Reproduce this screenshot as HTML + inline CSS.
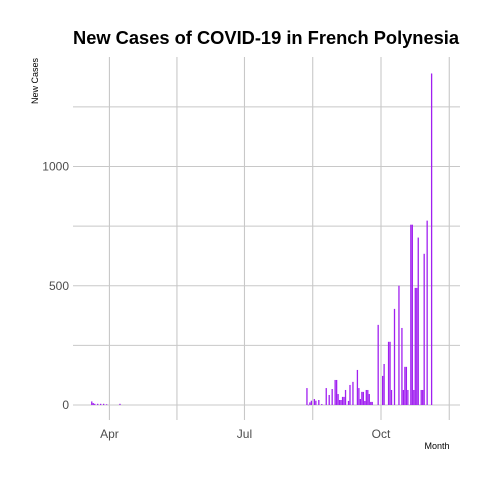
<!DOCTYPE html>
<html><head><meta charset="utf-8"><style>
body{margin:0;background:#fff;width:480px;height:480px;overflow:hidden}
svg text{font-family:"Liberation Sans",sans-serif}
</style></head><body>
<svg id="chart" width="480" height="480">
<text x="73" y="44" font-size="18.3" font-weight="bold" fill="#000">New Cases of COVID-19 in French Polynesia</text>
<text transform="translate(38,81) rotate(-90)" text-anchor="middle" font-size="9" fill="#000">New  Cases</text>
<text x="437" y="449" text-anchor="middle" font-size="9" fill="#000">Month</text>
<g id="grid"></g><g id="bars"></g><g id="labels"></g>
</svg>
<script>
// day offsets relative to Oct 1, and daily new cases
const dayOffsets=[-195,-194,-193,-191,-189,-187,-185,-176,-50,-49,-48,-47,-45,-44,-42,-40,-37,-35,-33,-31,-30,-29,-28,-27,-26,-25,-24,-22,-21,-19,-16,-15,-14,-13,-12,-11,-10,-9,-8,-7,-6,-2,1,2,5,6,7,9,12,14,15,16,17,18,20,21,22,23,24,25,27,28,29,31,34];
const cases=[15,8,5,5,5,5,3,5,71,1,11,18,25,18,21,4,71,42,67,105,105,46,21,21,34,34,63,17,84,97,147,71,25,55,55,17,63,63,46,13,13,336,122,172,265,265,63,403,500,323,63,160,160,63,756,756,63,491,491,702,63,63,634,773,1390];
const yTicks=[0,500,1000];
const yMinor=[250,750,1250];
const xTickLabels=["Apr","Jul","Oct"];
const xTickDays=[-183,-92,0];
const xMinorDays=[-137.5,-46,46];
const NS="http://www.w3.org/2000/svg";
const L=73,R=460,T=57,B=420;
const x=d=>381+d*1.484;
const y=v=>405-v*0.2385;
const grid=document.getElementById('grid'),bars=document.getElementById('bars'),labels=document.getElementById('labels');
function line(x1,y1,x2,y2,name){const l=document.createElementNS(NS,'line');l.setAttribute('x1',x1);l.setAttribute('y1',y1);l.setAttribute('x2',x2);l.setAttribute('y2',y2);l.setAttribute('stroke','#c8c8c8');l.setAttribute('stroke-width','1.1');


grid.appendChild(l);}
yMinor.forEach(v=>line(L,y(v),R,y(v),'y-minor-gridline'));
yTicks.forEach(v=>line(L,y(v),R,y(v),'y-gridline'));
xMinorDays.forEach(d=>line(x(d),T,x(d),B,'x-minor-gridline'));
xTickDays.forEach(d=>line(x(d),T,x(d),B,'x-gridline'));
yTicks.forEach(v=>{const t=document.createElementNS(NS,'text');t.setAttribute('x',69);t.setAttribute('y',y(v)+4);t.setAttribute('text-anchor','end');t.setAttribute('font-size','12');t.setAttribute('fill','#4d4d4d');t.textContent=v;


labels.appendChild(t);});
xTickLabels.forEach((s,i)=>{const t=document.createElementNS(NS,'text');t.setAttribute('x',x(xTickDays[i]));t.setAttribute('y',438);t.setAttribute('text-anchor','middle');t.setAttribute('font-size','12');t.setAttribute('fill','#4d4d4d');t.textContent=s;


labels.appendChild(t);});
dayOffsets.forEach((d,i)=>{const r=document.createElementNS(NS,'rect');const h=cases[i]*0.2385;r.setAttribute('x',x(d)-0.5);r.setAttribute('y',405-h);r.setAttribute('width',1.3);r.setAttribute('height',Math.max(h,0.6));r.setAttribute('fill','#a020f0');


bars.appendChild(r);});
</script>
</body></html>
